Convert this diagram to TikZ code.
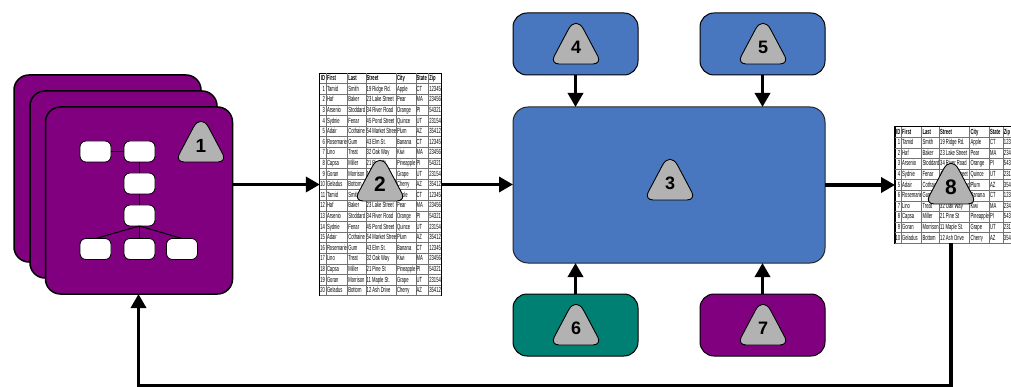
\documentclass[tikz,border=0pt]{standalone}
\usepackage{fontspec}
\usepackage{array}
\usepackage{colortbl}
\setmainfont{Liberation Sans}
\newfontfamily\tabfont[FakeStretch=0.56]{Liberation Sans}
\usetikzlibrary{arrows.meta}
\definecolor{plum}{HTML}{800080}
\definecolor{blu}{HTML}{4877BF}
\definecolor{teal2}{HTML}{008073}
\definecolor{badgegray}{HTML}{B2B2B2}
\newcolumntype{C}[1]{w{l}{#1pt}}
\newcolumntype{R}[1]{w{r}{#1pt}}
\newcommand\strutrow{\rule[-2.8pt]{0pt}{10.25pt}}
\newcommand\hdr{\bfseries\strutrow ID&\bfseries First&\bfseries Last&\bfseries Street&\bfseries City&\bfseries State&\bfseries Zip\\\hline}
\newcommand\rowsone{%
\strutrow 1&Tamid&Smith&19 Ridge Rd.&Apple&CT&12345\\\hline
\strutrow 2&Haf&Baker&23 Lake Street&Pear&MA&23456\\\hline
\strutrow 3&Arsenio&Stoddard&34 River Road&Orange&PI&54321\\\hline
\strutrow 4&Sydnie&Fenar&45 Pond Street&Quince&UT&23154\\\hline
\strutrow 5&Adair&Cothaine&54 Market Street&Plum&AZ&35412\\\hline
\strutrow 6&Rosemarie&Gum&43 Elm St.&Banana&CT&12345\\\hline
\strutrow 7&Lino&Treat&32 Oak Way&Kiwi&MA&23456\\\hline
\strutrow 8&Capsa&Miller&21 Pine St&Pineapple&PI&54321\\\hline
\strutrow 9&Goran&Morrison&11 Maple St.&Grape&UT&23154\\\hline
\strutrow 10&Geladus&Bottom&12 Ash Drive&Cherry&AZ&35412\\\hline}
\newcommand\rowstwo{%
\strutrow 11&Tamid&Smith&19 Ridge Rd.&Apple&CT&12345\\\hline
\strutrow 12&Haf&Baker&23 Lake Street&Pear&MA&23456\\\hline
\strutrow 13&Arsenio&Stoddard&34 River Road&Orange&PI&54321\\\hline
\strutrow 14&Sydnie&Fenar&45 Pond Street&Quince&UT&23154\\\hline
\strutrow 15&Adair&Cothaine&54 Market Street&Plum&AZ&35412\\\hline
\strutrow 16&Rosemarie&Gum&43 Elm St.&Banana&CT&12345\\\hline
\strutrow 17&Lino&Treat&32 Oak Way&Kiwi&MA&23456\\\hline
\strutrow 18&Capsa&Miller&21 Pine St&Pineapple&PI&54321\\\hline
\strutrow 19&Goran&Morrison&11 Maple St.&Grape&UT&23154\\\hline
\strutrow 20&Geladus&Bottom&12 Ash Drive&Cherry&AZ&35412\\\hline}
\tikzset{
  x=1pt,y=-1pt,
  stackbox/.style={draw=black,line width=1.5pt,fill=plum,rounded corners=15pt,minimum width=187pt,minimum height=187pt,inner sep=0pt,outer sep=0pt},
  mainbox/.style={draw=black!85,line width=1pt,fill=blu,rounded corners=15pt,minimum width=312pt,minimum height=156pt,inner sep=0pt,outer sep=0pt},
  smallbox/.style={draw=black,line width=1pt,rounded corners=14pt,minimum width=125pt,minimum height=62pt,inner sep=0pt,outer sep=0pt},
  whitebox/.style={draw=black,line width=0.8pt,fill=white,rounded corners=6pt,minimum width=31pt,minimum height=21pt,inner sep=0pt,outer sep=0pt},
  link/.style={draw=black,line width=1pt},
  flow/.style={draw=black,line width=3.4pt,-{Triangle[width=15pt,length=14pt]}},
  tablenode/.style={fill=white,inner sep=0pt,outer sep=0pt,font=\tabfont\fontsize{7.4}{8}\selectfont,draw=black,line width=1.2pt},
  badgetext/.style={font=\bfseries\fontsize{#1}{#1}\selectfont,inner sep=0pt},
  badge/.style={draw=black,line width=0.9pt,fill=badgegray},
}
\newcommand\badgeat[5]{% name, cx, bottom, size, digit
  \draw[badge] (#2,#3) [rounded corners=9pt] -- (#2+26,#3) [rounded corners=16pt] -- (#2,#3-49) [rounded corners=9pt] -- (#2-26,#3) [sharp corners] -- cycle;
  \node[badgetext=#4] (#1) at (#2,#3-16.5) {#5};
}
\begin{document}
\begin{tikzpicture}
\useasboundingbox (0,0) rectangle (1011,387);
\begin{scope}
\clip (0,0) rectangle (1011,387);
% stacked purple cards
\node[stackbox] (cardA) at (107.5,168.5) {};
\node[stackbox] (cardB) at (123.5,184.5) {};
\node[stackbox] (cardC) at (139,200.5) {};
% inner chart
\node[whitebox] (wa) at (95.5,151.5) {};
\node[whitebox] (wb) at (139.5,151.5) {};
\node[whitebox] (wc) at (139.5,183.5) {};
\node[whitebox] (wd) at (139.5,215.5) {};
\node[whitebox] (we) at (95.5,249) {};
\node[whitebox] (wf) at (139.5,249) {};
\node[whitebox] (wg) at (182,249) {};
\draw[link] (wa) -- (wb);
\draw[link] (wb) -- (wc);
\draw[link] (wc) -- (wd);
\draw[link] (wd) -- (wf);
\draw[link] (wd.south) -- (we.north);
\draw[link] (wd.south) -- (wg.north);
% blue and small boxes
\node[mainbox] (main) at (669,185) {};
\node[smallbox,fill=blu] (topL) at (575.5,44) {};
\node[smallbox,fill=blu] (topR) at (762.5,44) {};
\node[smallbox,fill=teal2] (botL) at (575.5,325) {};
\node[smallbox,fill=plum] (botR) at (762.5,325) {};
% tables
\arrayrulecolor{black!55}
\setlength{\tabcolsep}{0.8pt}
\setlength{\arrayrulewidth}{0.35pt}
\node[tablenode] (tblA) at (380.5,184.5) {%
\begin{tabular}{@{}R{5.2}|C{19.4}|C{16.4}|C{28.4}|C{17.7}|C{10.7}|C{11.8}@{}}
\hdr\rowsone\rowstwo
\end{tabular}};
\node[tablenode] (tblB) at (960.5,185) {%
\begin{tabular}{@{}R{5.2}|C{18.4}|C{15.7}|C{28.4}|C{17.7}|C{11.8}|C{22}@{}}
\hdr\rowsone
\end{tabular}};
\end{scope}
% arrows
\draw[flow] (cardC.east |- tblA.west) -- (tblA.west);
\draw[flow] (tblA.east) -- (tblA.east -| main.west);
\draw[flow] (main.east) -- (main.east -| tblB.west);
\draw[flow] (topL.south) -- (topL.south |- main.north);
\draw[flow] (topR.south) -- (topR.south |- main.north);
\draw[flow] (botL.north) -- (botL.north |- main.south);
\draw[flow] (botR.north) -- (botR.north |- main.south);
\coordinate (fbR) at (951,385.5);
\coordinate (fbL) at (138.5,385.5);
\draw[flow] (tblB.south -| fbR) -- (fbR) -- (fbL) -- (cardC.south -| fbL);
% badges
\badgeat{b1}{201}{162}{19}{1}
\badgeat{b2}{380}{201}{21}{2}
\badgeat{b3}{670}{200}{18}{3}
\badgeat{b4}{576}{64}{18}{4}
\badgeat{b5}{763}{64}{18}{5}
\badgeat{b6}{576}{345}{18}{6}
\badgeat{b7}{763}{345}{18}{7}
\badgeat{b8}{951}{204}{21}{8}
\end{tikzpicture}
\end{document}
